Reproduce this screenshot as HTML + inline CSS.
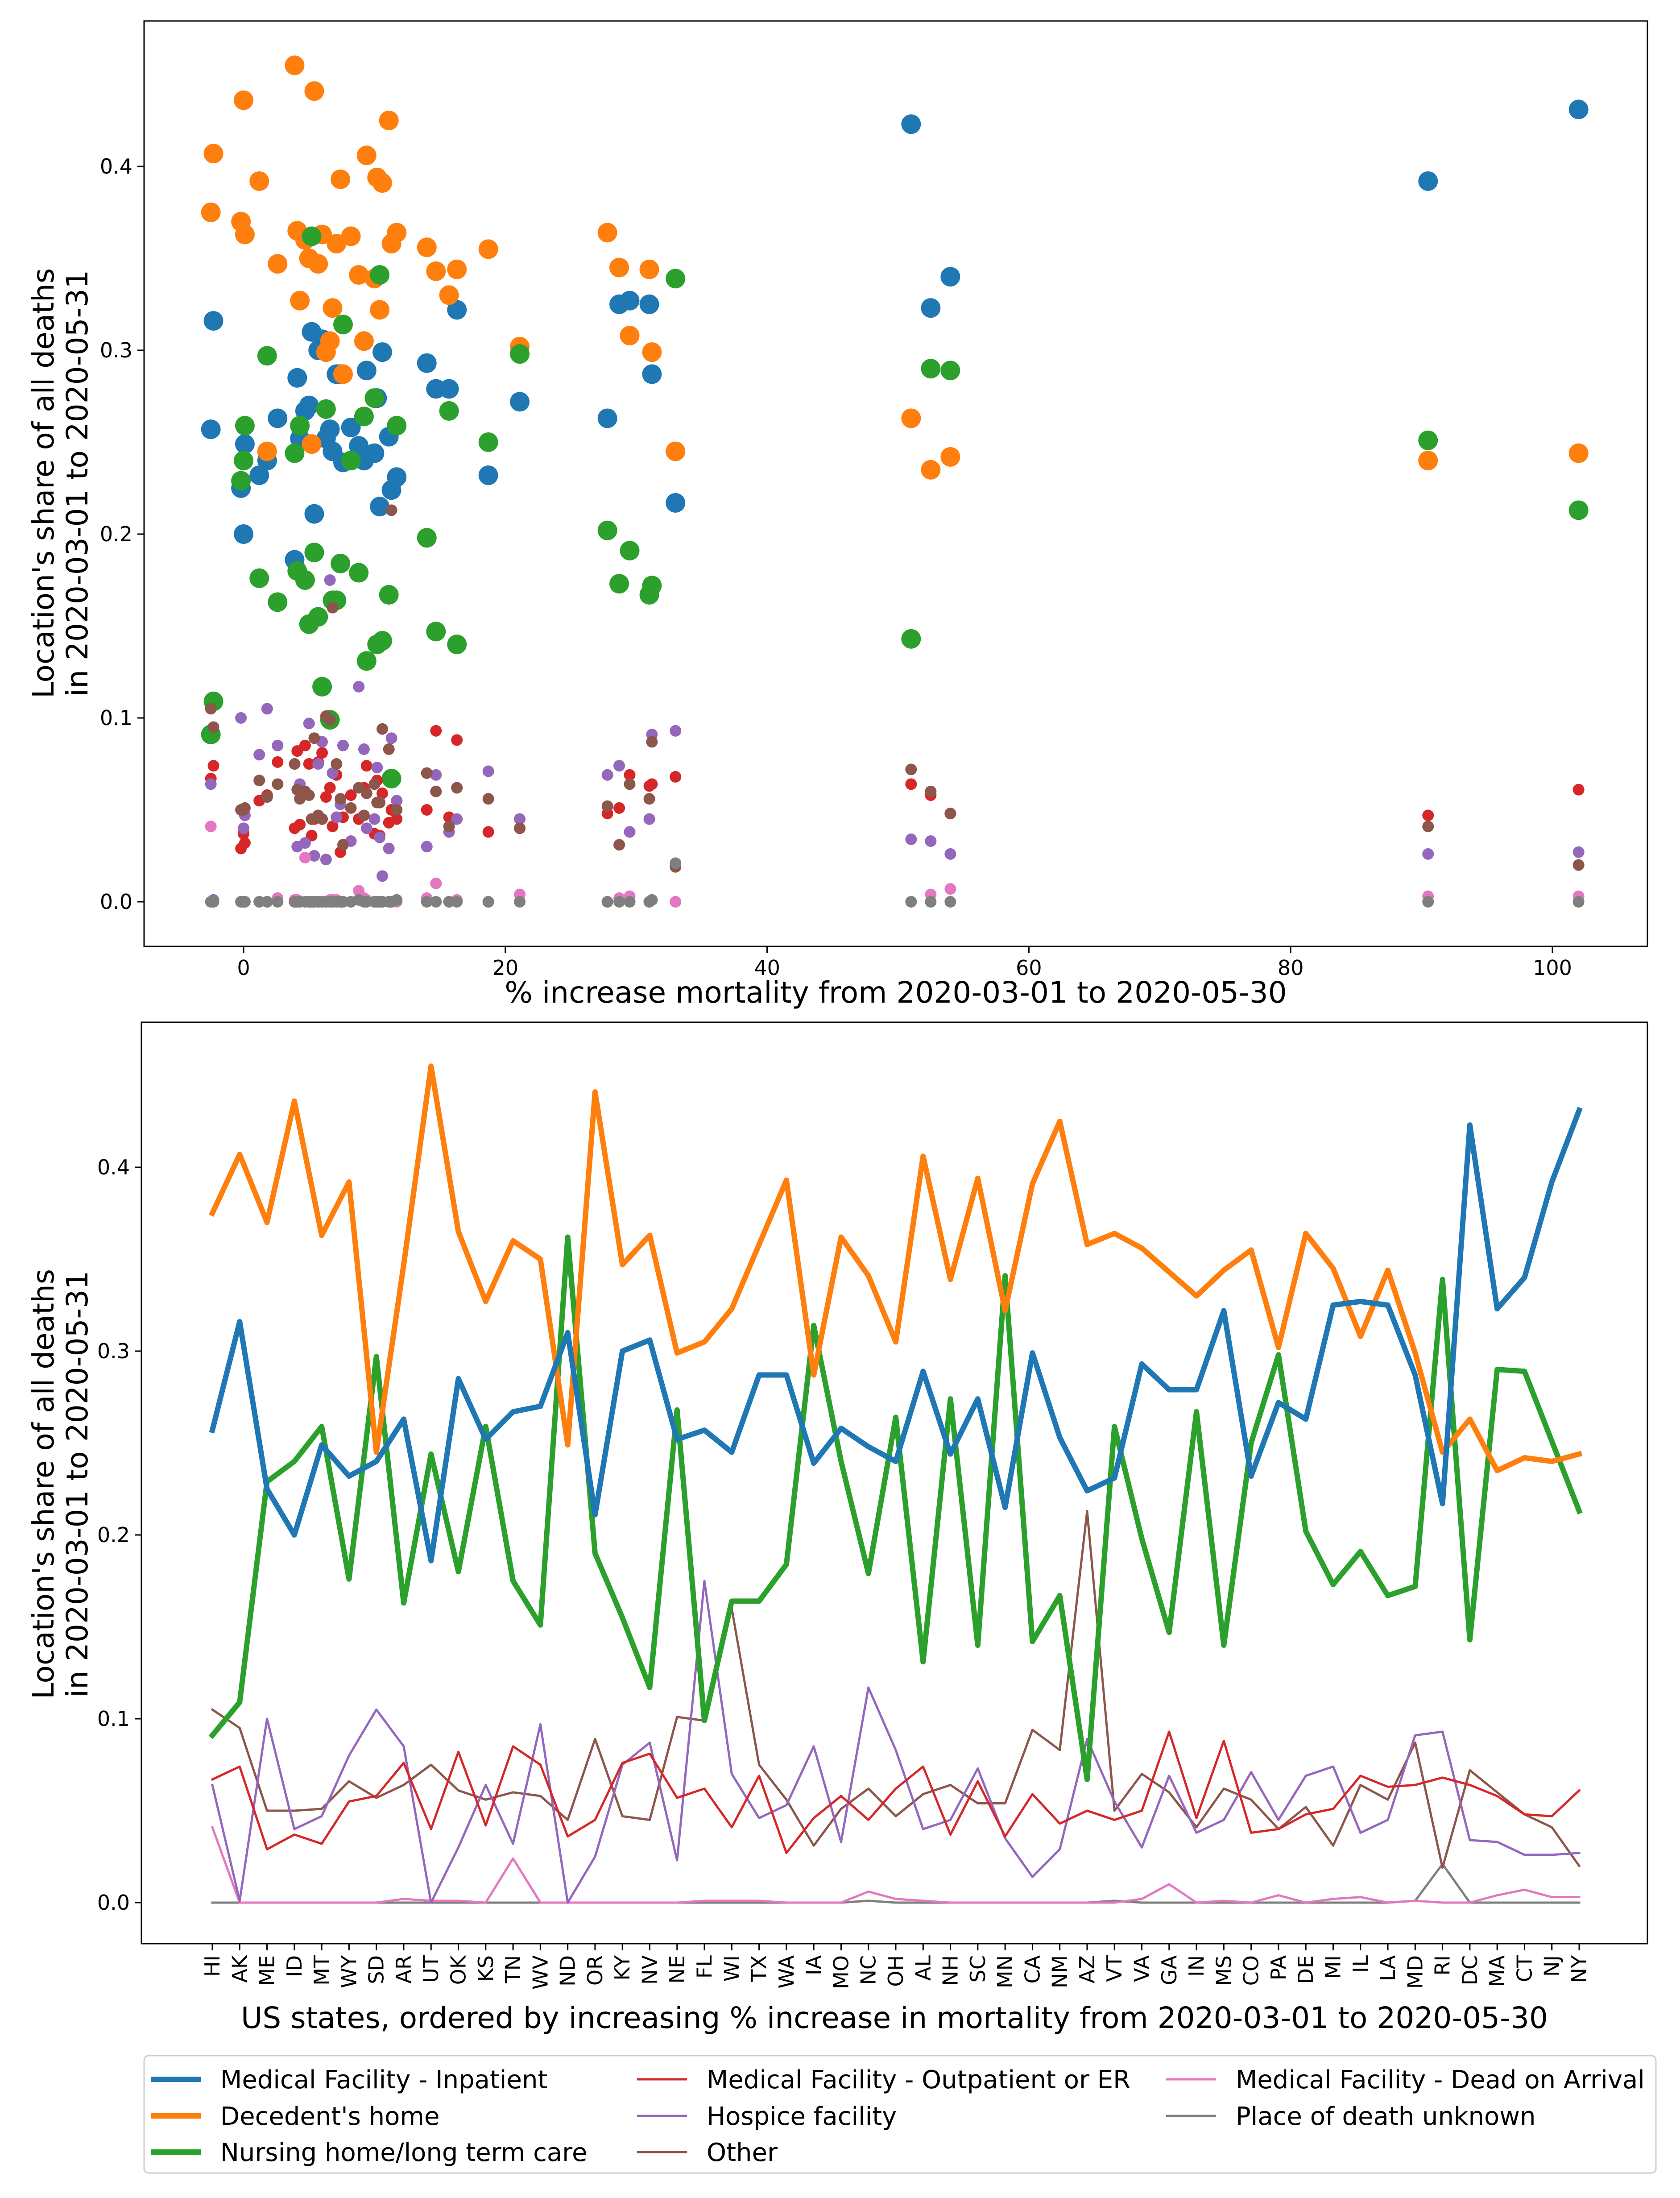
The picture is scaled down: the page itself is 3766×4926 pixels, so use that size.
<!DOCTYPE html>
<html><head><meta charset="utf-8">
<style>
html,body{margin:0;padding:0;background:#fff;}
svg{display:block;font-family:"DejaVu Sans","Liberation Sans",sans-serif;}
</style></head>
<body>
<svg id="chart" width="3766" height="4926" viewBox="0 0 3766 4926" xmlns="http://www.w3.org/2000/svg">
<rect width="3766" height="4926" fill="#fff"/>
<g id="topPanel"></g>
<g id="bottomPanel"></g>
<g id="legendPanel"></g>
</svg>
<script>
const states = ["HI","AK","ME","ID","MT","WY","SD","AR","UT","OK","KS","TN","WV","ND","OR","KY","NV","NE","FL","WI","TX","WA","IA","MO","NC","OH","AL","NH","SC","MN","CA","NM","AZ","VT","VA","GA","IN","MS","CO","PA","DE","MI","IL","LA","MD","RI","DC","MA","CT","NJ","NY"];
const mortalityIncrease = [-2.5,-2.3,-0.2,0,0.1,1.2,1.8,2.6,3.9,4.1,4.3,4.7,5.0,5.2,5.4,5.7,6.0,6.3,6.6,6.8,7.1,7.4,7.6,8.2,8.8,9.2,9.4,10.0,10.2,10.4,10.6,11.1,11.3,11.7,14.0,14.7,15.7,16.3,18.7,21.1,27.8,28.7,29.5,31.0,31.2,33.0,51.0,52.5,54.0,90.5,102.0];
const inpatient = [.257,.316,.225,.200,.249,.232,.240,.263,.186,.285,.252,.267,.270,.310,.211,.300,.306,.252,.257,.245,.287,.287,.239,.258,.248,.240,.289,.244,.274,.215,.299,.253,.224,.231,.293,.279,.279,.322,.232,.272,.263,.325,.327,.325,.287,.217,.423,.323,.340,.392,.431];
const decedentHome = [.375,.407,.370,.436,.363,.392,.245,.347,.455,.365,.327,.360,.350,.249,.441,.347,.363,.299,.305,.323,.358,.393,.287,.362,.341,.305,.406,.339,.394,.322,.391,.425,.358,.364,.356,.343,.330,.344,.355,.302,.364,.345,.308,.344,.299,.245,.263,.235,.242,.240,.244];
const nursingHome = [.091,.109,.229,.240,.259,.176,.297,.163,.244,.180,.259,.175,.151,.362,.190,.155,.117,.268,.099,.164,.164,.184,.314,.240,.179,.264,.131,.274,.140,.341,.142,.167,.067,.259,.198,.147,.267,.140,.250,.298,.202,.173,.191,.167,.172,.339,.143,.290,.289,.251,.213];
const outpatient = [.067,.074,.029,.037,.032,.055,.058,.076,.040,.082,.042,.085,.075,.036,.045,.076,.081,.057,.062,.041,.069,.027,.046,.058,.045,.062,.074,.037,.066,.036,.059,.043,.050,.045,.050,.093,.046,.088,.038,.040,.048,.051,.069,.063,.064,.068,.064,.058,.048,.047,.061];
const hospice = [.064,.001,.100,.040,.047,.080,.105,.085,.000,.030,.064,.032,.097,.000,.025,.075,.087,.023,.175,.070,.046,.053,.085,.033,.117,.083,.040,.045,.073,.035,.014,.029,.089,.055,.030,.069,.038,.045,.071,.045,.069,.074,.038,.045,.091,.093,.034,.033,.026,.026,.027];
const other = [.105,.095,.050,.050,.051,.066,.057,.064,.075,.061,.056,.060,.058,.045,.089,.047,.045,.101,.099,.160,.075,.056,.031,.051,.062,.047,.059,.064,.054,.054,.094,.083,.213,.050,.070,.060,.041,.062,.056,.040,.052,.031,.064,.056,.087,.019,.072,.060,.048,.041,.020];
const deadOnArrival = [.041,0,0,0,0,0,0,.002,.001,.001,0,.024,0,0,0,0,0,0,.001,.001,.001,0,0,0,.006,.002,.001,0,0,0,0,0,0,0,.002,.010,0,.001,0,.004,0,.002,.003,0,.001,0,0,.004,.007,.003,.003];
const unknown = [0,0,0,0,0,0,0,0,0,0,0,0,0,0,0,0,0,0,0,0,0,0,0,0,.001,0,0,0,0,0,0,0,0,.001,0,0,0,0,0,0,0,0,0,0,.001,.021,0,0,0,0,0];
const topXTicks = [0,20,40,60,80,100];
const yTicks = [0.0,0.1,0.2,0.3,0.4];
const seriesNames = ["Medical Facility - Inpatient","Decedent's home","Nursing home/long term care","Medical Facility - Outpatient or ER","Hospice facility","Other","Medical Facility - Dead on Arrival","Place of death unknown"];

(function(){
const NS="http://www.w3.org/2000/svg";
function mk(parent, tag, attrs, text){
  const e=document.createElementNS(NS,tag);
  for(const k in attrs) e.setAttribute(k,attrs[k]);
  if(text!==undefined) e.textContent=text;
  parent.appendChild(e); return e;
}
const series=[
 {v:inpatient,c:"#1f77b4",big:true,key:"inpatient"},
 {v:decedentHome,c:"#ff7f0e",big:true,key:"decedent-home"},
 {v:nursingHome,c:"#2ca02c",big:true,key:"nursing-home"},
 {v:outpatient,c:"#d62728",big:false,key:"outpatient"},
 {v:hospice,c:"#9467bd",big:false,key:"hospice"},
 {v:other,c:"#8c564b",big:false,key:"other"},
 {v:deadOnArrival,c:"#e377c2",big:false,key:"dead-on-arrival"},
 {v:unknown,c:"#7f7f7f",big:false,key:"unknown"}
];
const FS=46, TS=66;

// ===== TOP SCATTER =====
const tp=document.getElementById('topPanel');
const T={l:323,r:3693,t:47,b:2121};
const tx=v=>546+v*(3480-546)/100;
const ty=v=>2021-v*4120;
series.forEach(s=>{
  const g=mk(tp,'g',{});
  
  
  s.v.forEach((val,i)=>{
    const c=mk(g,'circle',{cx:tx(mortalityIncrease[i]),cy:ty(val),r:s.big?22:13,fill:s.c});
    
    
  });
});
const tf=mk(tp,'rect',{x:T.l,y:T.t,width:T.r-T.l,height:T.b-T.t,fill:'none',stroke:'#000','stroke-width':3});


topXTicks.forEach(t=>{
  const x=tx(t);
  mk(tp,'line',{x1:x,x2:x,y1:T.b,y2:T.b+15,stroke:'#000','stroke-width':3});
  const lb=mk(tp,'text',{x:x,y:T.b+64,'font-size':FS,'text-anchor':'middle'},String(t));
  
  
});
yTicks.forEach(t=>{
  const y=ty(t);
  mk(tp,'line',{x1:T.l-15,x2:T.l,y1:y,y2:y,stroke:'#000','stroke-width':3});
  const lb=mk(tp,'text',{x:T.l-26,y:y+16,'font-size':FS,'text-anchor':'end'},t.toFixed(1));
  
  
});
const txl=mk(tp,'text',{x:(T.l+T.r)/2,y:2247,'font-size':TS,'text-anchor':'middle'},'% increase mortality from 2020-03-01 to 2020-05-30');


const tyl=mk(tp,'text',{transform:'translate(120,1083) rotate(-90)','font-size':TS,'text-anchor':'middle'});


mk(tyl,'tspan',{x:0,y:0},"Location's share of all deaths");
mk(tyl,'tspan',{x:0,y:76},"in 2020-03-01 to 2020-05-31");

// ===== BOTTOM LINES =====
const bp=document.getElementById('bottomPanel');
const B={l:317,r:3693,t:2291,b:4356};
const bx=i=>476+i*(3540-476)/(states.length-1);
const by=v=>4264-v*4120;
series.slice().reverse().forEach(s=>{
  const pts=s.v.map((val,i)=>bx(i)+','+by(val)).join(' ');
  const p=mk(bp,'polyline',{points:pts,fill:'none',stroke:s.c,'stroke-width':s.big?12:5,'stroke-linejoin':'round','stroke-linecap':'square'});
  
  
});
const bf=mk(bp,'rect',{x:B.l,y:B.t,width:B.r-B.l,height:B.b-B.t,fill:'none',stroke:'#000','stroke-width':3});


states.forEach((st,i)=>{
  const x=bx(i);
  mk(bp,'line',{x1:x,x2:x,y1:B.b,y2:B.b+15,stroke:'#000','stroke-width':3});
  const lb=mk(bp,'text',{transform:`translate(${x+16},${B.b+26}) rotate(-90)`,'font-size':FS,'text-anchor':'end'},st);
  
  
});
yTicks.forEach(t=>{
  const y=by(t);
  mk(bp,'line',{x1:B.l-15,x2:B.l,y1:y,y2:y,stroke:'#000','stroke-width':3});
  const lb=mk(bp,'text',{x:B.l-26,y:y+16,'font-size':FS,'text-anchor':'end'},t.toFixed(1));
  
  
});
const bxl=mk(bp,'text',{x:(B.l+B.r)/2,y:4545,'font-size':TS,'text-anchor':'middle'},'US states, ordered by increasing % increase in mortality from 2020-03-01 to 2020-05-30');


const byl=mk(bp,'text',{transform:'translate(120,3326) rotate(-90)','font-size':TS,'text-anchor':'middle'});


mk(byl,'tspan',{x:0,y:0},"Location's share of all deaths");
mk(byl,'tspan',{x:0,y:76},"in 2020-03-01 to 2020-05-31");

// ===== LEGEND =====
const lg=document.getElementById('legendPanel');
const lbx=mk(lg,'rect',{x:323,y:4607,width:3389,height:263,rx:10,fill:'#fff',stroke:'#ccc','stroke-width':3});


const colX=[338,1428,2614], rowY=[4660,4742,4823];
series.forEach((s,i)=>{
  const col=Math.floor(i/3), row=i%3;
  const g=mk(lg,'g',{});
  
  
  mk(g,'line',{x1:colX[col],x2:colX[col]+112,y1:rowY[row],y2:rowY[row],stroke:s.c,'stroke-width':s.big?12:5});
  mk(g,'text',{x:colX[col]+156,y:rowY[row]+20,'font-size':56},seriesNames[i]);
});
})();
</script>
</body></html>
